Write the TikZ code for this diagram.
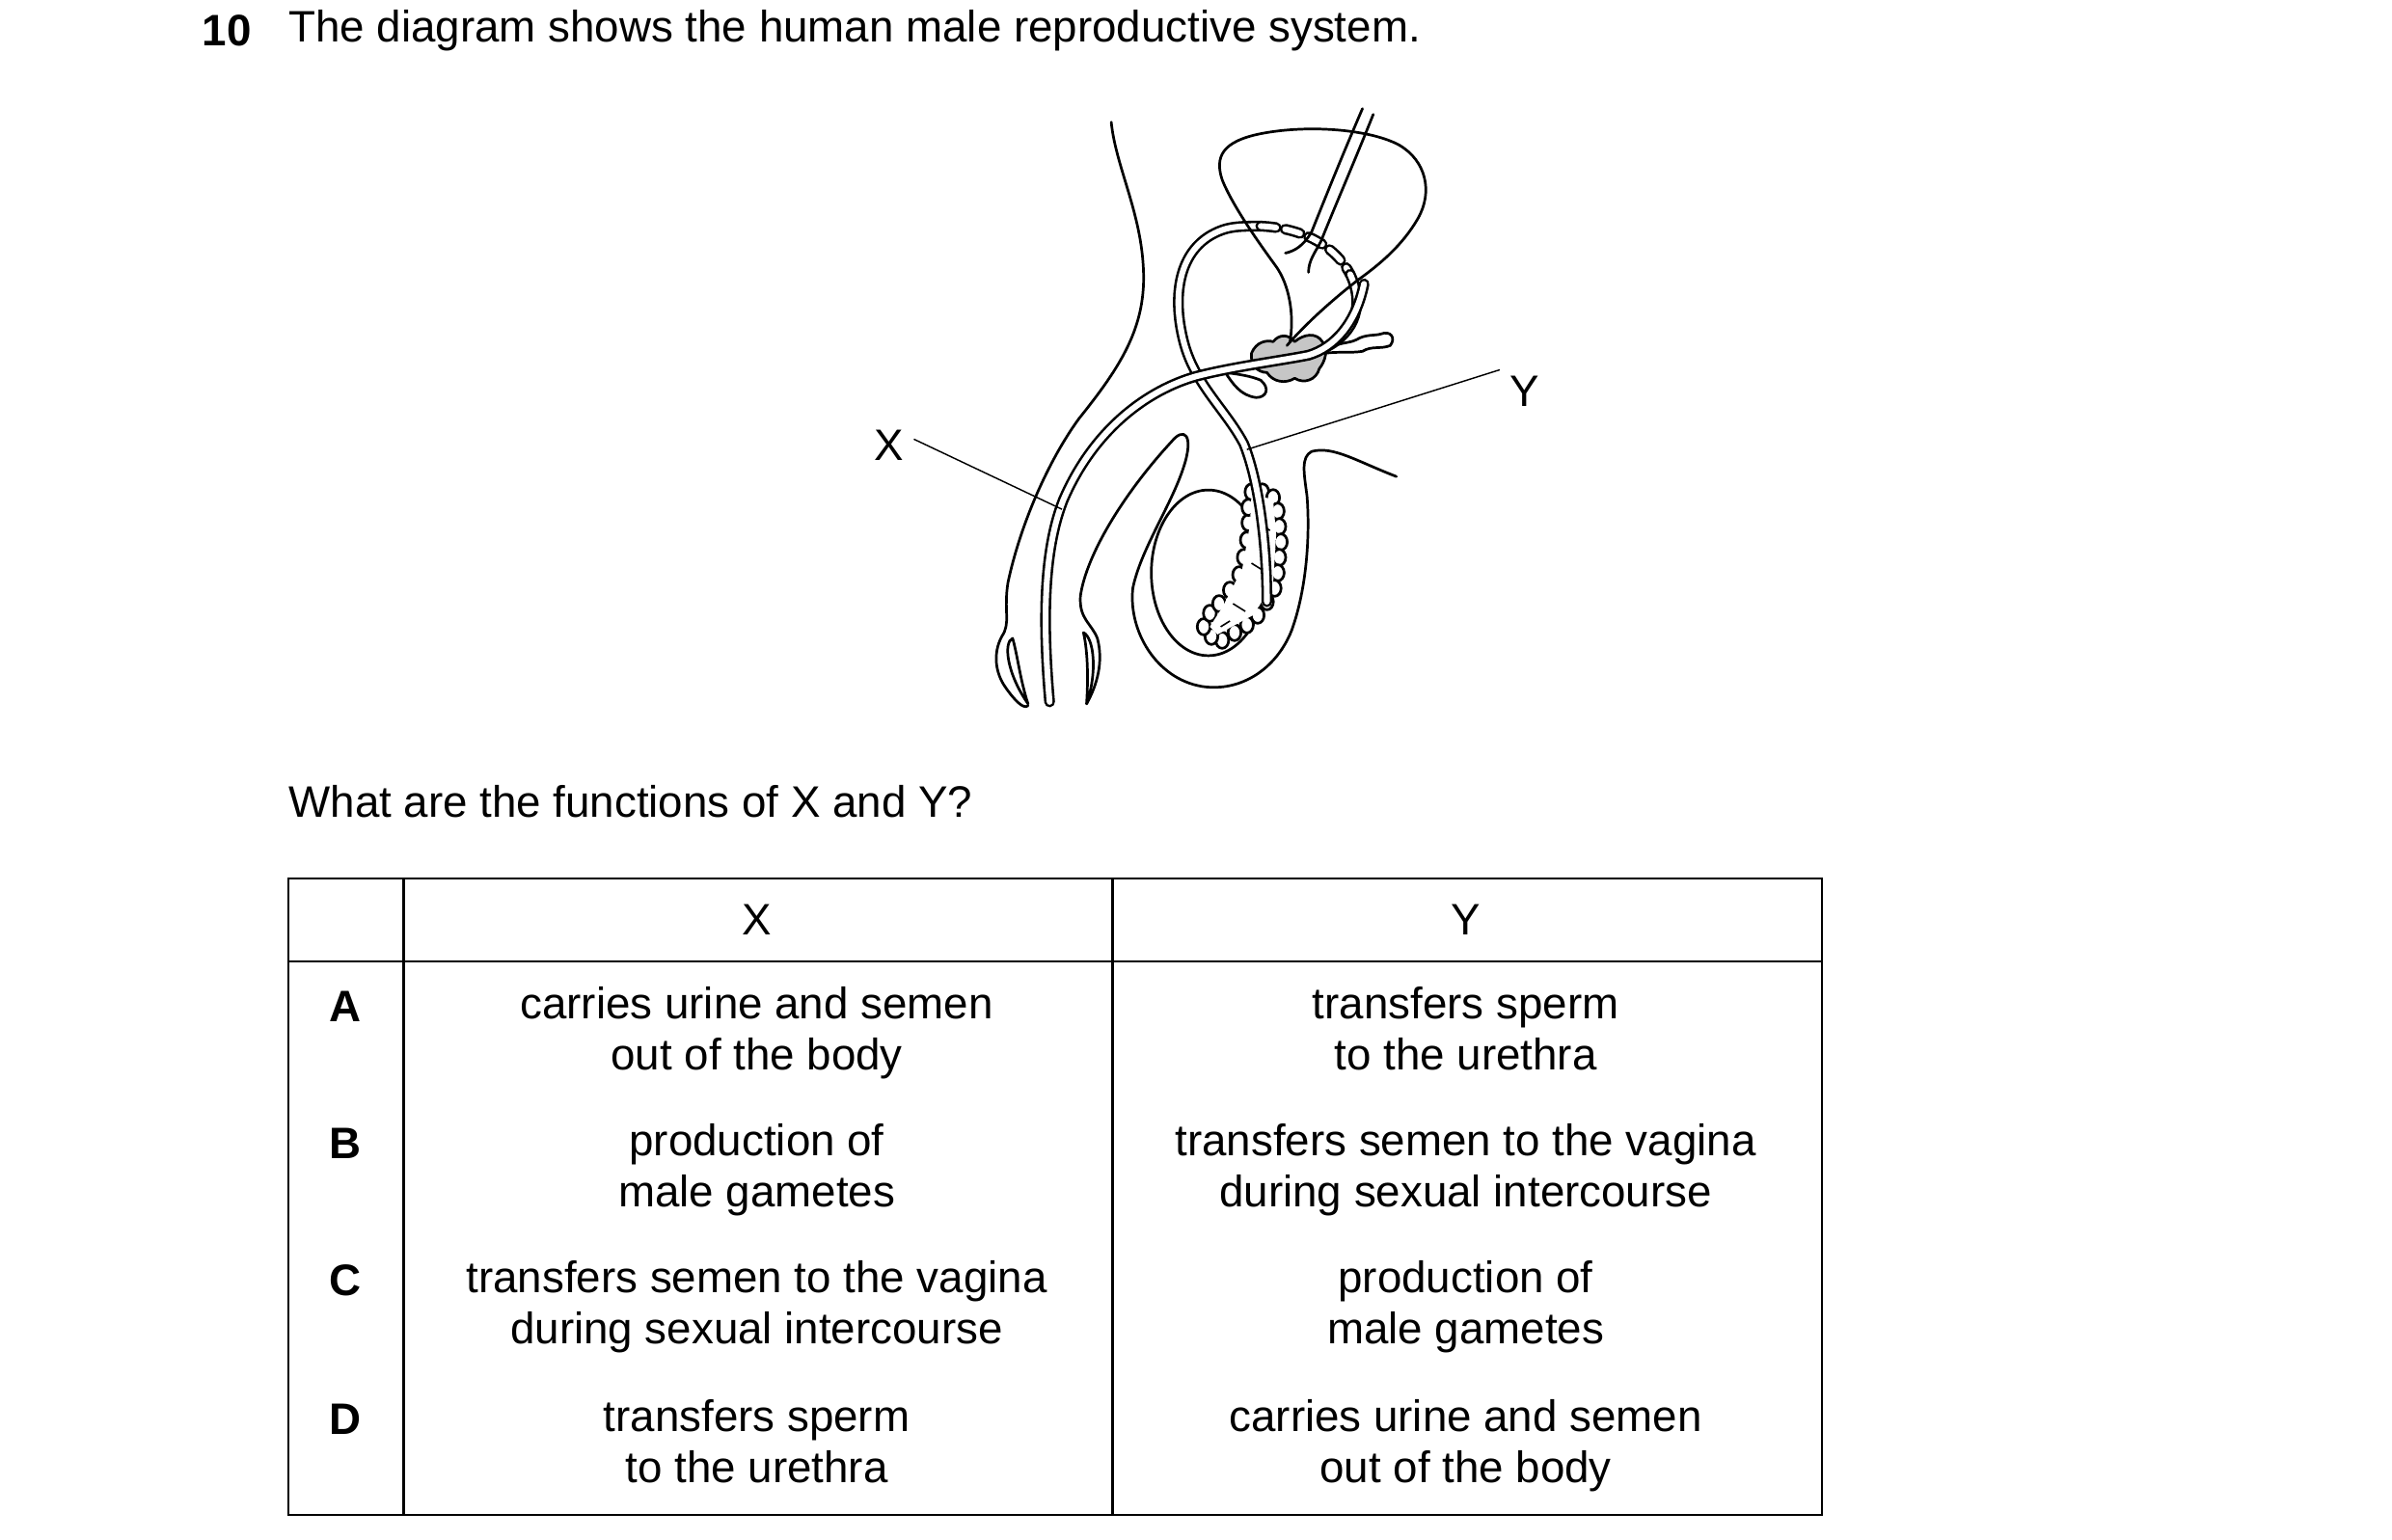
\documentclass[tikz,border=0pt]{standalone}
\usepackage{fontspec}
\setmainfont{Liberation Sans}
\begin{document}
\begin{tikzpicture}[x=0.5pt,y=-0.5pt,
 ln/.style={line width=0.85pt,line cap=round,line join=round},
 tube/.style={line width=0.8pt,double=white,double distance=1.9pt,line cap=round},
 txt/.style={font=\fontsize{14.3pt}{16.6pt}\selectfont,inner sep=0},
 cell/.style={txt,align=center},
 lbl/.style={line width=0.45pt}]
\useasboundingbox (0,0) rectangle (1552,999);
% header text
\node[txt,anchor=west,font=\fontsize{14.3pt}{16pt}\selectfont\bfseries] (num) at (131,20) {10};
\node[txt,anchor=west] (title) at (187,20) {The diagram shows the human male reproductive system.};
\begin{scope}[shift={(0,-15.75)},yscale=1.25]
% body outline
\draw[ln] (721,76) .. controls (724,100) and (742,125) .. (742,157)
 .. controls (742,185) and (725,205) .. (700,230)
 .. controls (680,252) and (662,285) .. (654,315)
 .. controls (651,330) and (656,336) .. (650,343)
 .. controls (644,352) and (646,362) .. (652,369)
 .. controls (658,376) and (664,381) .. (667,379);
\draw[ln] (657,344) .. controls (651,346) and (653,362) .. (667,378) .. controls (662,366) and (660,352) .. (657,344) -- cycle;
% right outer line and fold into scrotum
\draw[ln] (705,378) .. controls (712,368) and (716,356) .. (712,344)
 .. controls (708,336) and (700,334) .. (701,322)
 .. controls (705,300) and (730,268) .. (760,242)
 .. controls (768,234) and (775,238) .. (768,255)
 .. controls (760,275) and (740,298) .. (735,318)
 .. controls (732,340) and (750,365) .. (780,369)
 .. controls (805,372) and (828,360) .. (838,340)
 .. controls (848,318) and (850,290) .. (848,270)
 .. controls (846,258) and (844,250) .. (851,247)
 .. controls (865,244) and (880,252) .. (906,260);
\draw[ln] (703,341) .. controls (710,344) and (712,362) .. (705,378) .. controls (706,366) and (706,352) .. (703,341) -- cycle;
% testis
\draw[ln] (784,310) ellipse[x radius=37,y radius=43];
% grey glands
\draw[ln,fill=gray!45] (812,196) .. controls (815,190) and (822,189) .. (826,190)
 .. controls (830,186) and (836,186) .. (840,190) .. controls (846,186) and (854,185) .. (858,190)
 .. controls (862,194) and (860,200) .. (856,204) .. controls (854,210) and (846,212) .. (840,209)
 .. controls (834,212) and (826,211) .. (822,206) .. controls (816,206) and (811,202) .. (812,196) -- cycle;
\draw[ln,fill=white] (795,206) .. controls (800,212) and (805,218) .. (815,219)
 .. controls (822,219) and (824,214) .. (818,210) .. controls (812,208) and (805,207) .. (795,206) -- cycle;
\draw[ln] (860,194) .. controls (870,190) and (875,191) .. (880,189) .. controls (886,186) and (892,187) .. (896,186)
 .. controls (902,184) and (906,188) .. (902,192) .. controls (896,194) and (890,192) .. (884,195) .. controls (876,196) and (868,195) .. (860,196);
% epididymis (bumpy outline)
\foreach \p in {(812,268),(819,268),(826,271),(829,278),(830,286),(831,294),(830,302),(829,310),(827,318),(822,325),(816,332),(809,337),(801,341),(793,345),(786,343),(781,338),(785,331),(791,326),(798,319),(804,311),(807,302),(809,293),(810,284),(810,276)}
 {\draw[ln,fill=white] \p circle[radius=4.2];}
\fill[white] (812,269) -- (826,272) -- (828,290) -- (826,316) -- (813,332) -- (790,342) -- (785,338) -- (793,328) -- (806,308) -- (811,285) -- cycle;
\draw[line width=0.5pt] (818,285) -- (824,288) (812,305) -- (820,309) (800,326) -- (808,330) (792,338) -- (798,335);
% vas deferens
\draw[tube] (822,325) .. controls (822,300) and (818,265) .. (807,243)
 .. controls (795,225) and (775,212) .. (768,190)
 .. controls (760,165) and (765,140) .. (793,132)
 .. controls (800,130) and (808,130) .. (818,130);
\draw[tube,dash pattern=on 5pt off 3pt] (818,130) .. controls (845,131) and (866,140) .. (876,155);
\draw[tube] (876,155) .. controls (885,170) and (880,185) .. (860,193);
% urethra
\draw[tube] (681,377) .. controls (677,340) and (676,300) .. (690,272)
 .. controls (710,235) and (745,215) .. (776,208)
 .. controls (800,203) and (830,200) .. (849,197)
 .. controls (866,193) and (880,180) .. (885,160);
% bladder
\draw[ln] (837,190) .. controls (840,175) and (836,160) .. (828,151)
 .. controls (818,140) and (800,120) .. (793,106)
 .. controls (788,94) and (793,86) .. (818,82)
 .. controls (850,77) and (890,80) .. (908,88)
 .. controls (925,96) and (930,112) .. (920,126)
 .. controls (910,140) and (895,150) .. (881,158)
 .. controls (865,168) and (848,180) .. (835,192);
% ureters
\draw[ln] (884,69) .. controls (870,95) and (860,115) .. (851,133) .. controls (846,140) and (840,143) .. (834,144);
\draw[ln] (891,72) .. controls (878,98) and (866,120) .. (857,138) .. controls (853,144) and (849,148) .. (849,154);
\coordinate (xe) at (689,277);
\coordinate (ye) at (809,246);
\end{scope}
% labels
\node[txt] (X) at (577,289) {X};
\node[txt] (Y) at (989,254) {Y};
\draw[lbl] ([xshift=3,yshift=2]X.east) -- (xe);
\draw[lbl] ([xshift=-3,yshift=7]Y.west) -- (ye);
% question
\node[txt,anchor=west] (q) at (187,520) {What are the functions of X and Y?};
% table
\draw[line width=0.8pt] (187,570) rectangle (1182,983);
\draw[line width=0.8pt] (187,624) -- (1182,624);
\draw[line width=0.8pt] (262,570) -- (262,983);
\draw[line width=0.8pt] (722,570) -- (722,983);
\node[cell] (hx) at (491,597) {X};
\node[cell] (hy) at (951,597) {Y};
\foreach \l/\y in {A/653,B/742,C/831,D/921}{
 \node[txt,font=\fontsize{14.3pt}{16pt}\selectfont\bfseries] (r\l) at (224,\y) {\l};}
\node[cell,anchor=north] (ax) at (491,640) {carries urine and semen\\out of the body};
\node[cell,anchor=north] (ay) at (951,640) {transfers sperm\\to the urethra};
\node[cell,anchor=north] (bx) at (491,729) {production of\\male gametes};
\node[cell,anchor=north] (by) at (951,729) {transfers semen to the vagina\\during sexual intercourse};
\node[cell,anchor=north] (cx) at (491,818) {transfers semen to the vagina\\during sexual intercourse};
\node[cell,anchor=north] (cy) at (951,818) {production of\\male gametes};
\node[cell,anchor=north] (dx) at (491,908) {transfers sperm\\to the urethra};
\node[cell,anchor=north] (dy) at (951,908) {carries urine and semen\\out of the body};
\end{tikzpicture}
\end{document}
